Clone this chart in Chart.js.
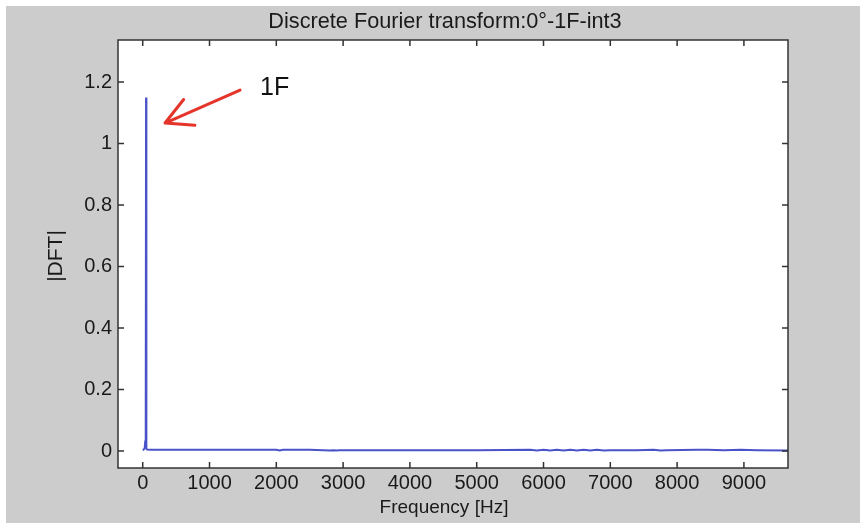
<!DOCTYPE html>
<html>
<head>
<meta charset="utf-8">
<script src="https://cdn.jsdelivr.net/npm/chart.js@4"></script>
<style>
  html, body { margin: 0; padding: 0; background: #fff; }
</style>
</head>
<body>
<canvas id="graficaDFT" width="860" height="525"></canvas>
<script>
// Datos del espectro
const freqHz = [
  0, 15, 30, 38, 43, 47, 50, 53, 57, 65, 120,
  500, 1000, 1500, 2000, 2050, 2100,
  2500, 2800, 2850, 2900, 2950, 3000,
  4000, 5000, 5800, 5900, 6000, 6100, 6200, 6300, 6400, 6500, 6600, 6700, 6800, 6900, 7000,
  7400, 7650, 7750, 7850, 8300, 8450, 8700, 8950, 9200, 9660
];
const magnitude = [
  0.003, 0.005, 0.010, 0.034, 0.016, 0.020, 1.150, 0.020, 0.008, 0.005, 0.004,
  0.004, 0.004, 0.004, 0.004, 0.002, 0.004,
  0.004, 0.002, 0.003, 0.002, 0.003, 0.003,
  0.003, 0.003, 0.004, 0.002, 0.004, 0.002, 0.004, 0.002, 0.004, 0.002, 0.004, 0.002, 0.004, 0.002, 0.003,
  0.003, 0.004, 0.002, 0.003, 0.004, 0.004, 0.003, 0.004, 0.003, 0.002
];

// Marcas de los ejes
const xTicks = [0, 1000, 2000, 3000, 4000, 5000, 6000, 7000, 8000, 9000];
const yTicks = [0, 0.2, 0.4, 0.6, 0.8, 1, 1.2];

// Textos
const tituloGrafica = 'Discrete Fourier transform:0°-1F-int3';
const tituloX = 'Frequency [Hz]';
const tituloY = '|DFT|';

// Anotación de la flecha (en unidades de datos)
const flechaDesde = [1457, 1.174];
const flechaHasta = [334, 1.067];
const etiquetaEn = [1756, 1.18];
const etiquetaTexto = '1F';

const FUENTE = '"Liberation Sans", Arial, Helvetica, sans-serif';

// Fondo gris estilo MATLAB, caja blanca, marcas hacia dentro y textos
const estiloMatlab = {
  id: 'estiloMatlab',
  beforeDraw(chart) {
    const { ctx, chartArea: a } = chart;
    ctx.save();
    ctx.fillStyle = '#ffffff';
    ctx.fillRect(0, 0, chart.width, chart.height);
    ctx.fillStyle = '#cccccc';
    ctx.fillRect(6, 6, chart.width - 6, 517);
    ctx.fillStyle = '#ffffff';
    ctx.fillRect(a.left, a.top, a.right - a.left, a.bottom - a.top);
    ctx.restore();
  },
  afterDraw(chart) {
    const { ctx, chartArea: a, scales } = chart;
    const x = scales.x, y = scales.y;
    const largo = 6;
    ctx.save();
    ctx.strokeStyle = '#333333';
    ctx.lineWidth = 1.5;
    ctx.beginPath();
    xTicks.forEach(v => {
      const px = x.getPixelForValue(v);
      ctx.moveTo(px, a.bottom); ctx.lineTo(px, a.bottom - largo);
      ctx.moveTo(px, a.top); ctx.lineTo(px, a.top + largo);
    });
    yTicks.forEach(v => {
      const py = y.getPixelForValue(v);
      ctx.moveTo(a.left, py); ctx.lineTo(a.left + largo, py);
      ctx.moveTo(a.right, py); ctx.lineTo(a.right - largo, py);
    });
    ctx.stroke();
    ctx.strokeRect(a.left, a.top, a.right - a.left, a.bottom - a.top);

    // Flecha roja
    const x1 = x.getPixelForValue(flechaDesde[0]), y1 = y.getPixelForValue(flechaDesde[1]);
    const x2 = x.getPixelForValue(flechaHasta[0]), y2 = y.getPixelForValue(flechaHasta[1]);
    const ang = Math.atan2(y1 - y2, x1 - x2);
    const punta = 30, abre = 28 * Math.PI / 180;
    ctx.strokeStyle = '#e5352a';
    ctx.lineWidth = 3;
    ctx.lineCap = 'round';
    ctx.lineJoin = 'round';
    ctx.beginPath();
    ctx.moveTo(x1, y1); ctx.lineTo(x2, y2);
    ctx.moveTo(x2 + punta * Math.cos(ang - abre), y2 + punta * Math.sin(ang - abre));
    ctx.lineTo(x2, y2);
    ctx.lineTo(x2 + punta * Math.cos(ang + abre), y2 + punta * Math.sin(ang + abre));
    ctx.stroke();

    ctx.fillStyle = '#111111';
    ctx.font = '25px ' + FUENTE;
    ctx.textAlign = 'left';
    ctx.textBaseline = 'middle';
    ctx.fillText(etiquetaTexto, x.getPixelForValue(etiquetaEn[0]), y.getPixelForValue(etiquetaEn[1]));

    // Títulos
    ctx.fillStyle = '#1a1a1a';
    ctx.textAlign = 'center';
    ctx.font = '21.7px ' + FUENTE;
    ctx.fillText(tituloGrafica, 445, 22);
    ctx.font = '19px ' + FUENTE;
    ctx.fillText(tituloX, 444, 508);
    ctx.font = '21px ' + FUENTE;
    ctx.translate(56, 256);
    ctx.rotate(-Math.PI / 2);
    ctx.fillText(tituloY, 0, 0);
    ctx.restore();
  }
};

function initGraficaDFT() {
  const ctx = document.getElementById('graficaDFT').getContext('2d');
  new Chart(ctx, {
    type: 'line',
    data: {
      datasets: [{
        data: freqHz.map((f, i) => ({ x: f, y: magnitude[i] })),
        borderColor: '#4a52c9',
        borderWidth: 2,
        pointRadius: 0,
        tension: 0,
        fill: false
      }]
    },
    options: {
      responsive: false,
      animation: false,
      layout: { padding: { left: 6, top: 40, right: 72, bottom: 2 } },
      plugins: { legend: { display: false }, tooltip: { enabled: false } },
      scales: {
        x: {
          type: 'linear',
          min: -370,
          max: 9660,
          afterBuildTicks: s => { s.ticks = xTicks.map(v => ({ value: v })); },
          afterFit: s => { s.height = 55; },
          grid: { display: false, drawTicks: false },
          border: { display: false },
          ticks: {
            padding: 3, color: '#1a1a1a', font: { family: FUENTE, size: 20 },
            callback: v => String(v)
          }
        },
        y: {
          min: -0.055,
          max: 1.337,
          afterBuildTicks: s => { s.ticks = yTicks.map(v => ({ value: v })); },
          afterFit: s => { s.width = 112; },
          grid: { display: false, drawTicks: false },
          border: { display: false },
          ticks: {
            padding: 6, color: '#1a1a1a', font: { family: FUENTE, size: 20 },
            callback: v => String(v)
          }
        }
      }
    },
    plugins: [estiloMatlab]
  });
}

document.addEventListener('DOMContentLoaded', initGraficaDFT);
</script>
</body>
</html>
